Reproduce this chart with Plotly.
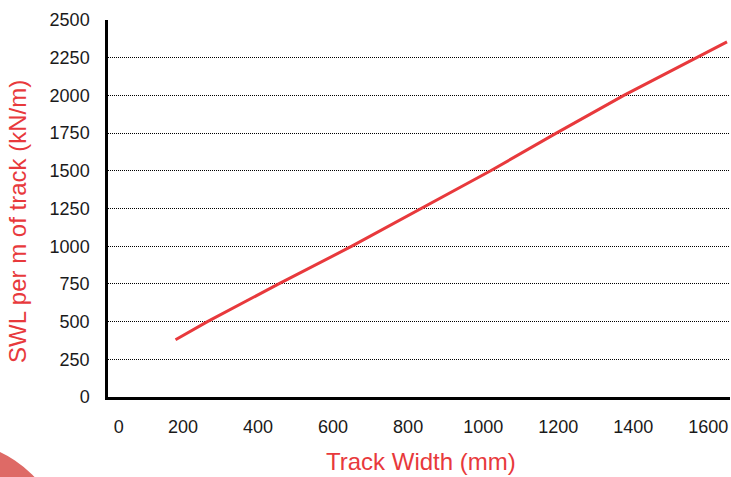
import plotly.graph_objects as go

track_width = [180, 265, 455, 650, 1020, 1195, 1375, 1570, 1650]
swl = [380, 500, 750, 1000, 1500, 1750, 2000, 2250, 2355]

x_tick_vals = [0, 200, 400, 600, 800, 1000, 1200, 1400, 1600]
x_tick_text = ["\u2003\u20090", "200", "400", "600", "800", "1000", "1200", "1400", "1600"]
y_tick_vals = [0, 250, 500, 750, 1000, 1250, 1500, 1750, 2000, 2250, 2500]

RED = "#e8393c"
FONT = "Liberation Sans, Arial, Helvetica, sans-serif"

fig = go.Figure()
fig.add_trace(go.Scatter(x=track_width, y=swl, mode="lines",
                         line=dict(color=RED, width=3), showlegend=False,
                         hoverinfo="skip"))

fig.update_layout(
    width=731, height=477,
    margin=dict(l=108, r=1, t=20, b=80),
    paper_bgcolor="white", plot_bgcolor="white",
    font=dict(family=FONT, size=18, color="#1a1a1a"),
    xaxis=dict(range=[0, 1658], tickvals=x_tick_vals, ticktext=x_tick_text,
               showgrid=False, zeroline=False, showline=True,
               linecolor="black", linewidth=2.5, ticks="",
               ticklabelstandoff=12, tickfont=dict(size=18)),
    yaxis=dict(range=[0, 2500], tickvals=y_tick_vals,
               showgrid=True, gridcolor="#000", griddash="1px,1px", gridwidth=1,
               zeroline=False, showline=True, linecolor="black", linewidth=2.5,
               ticks="", ticklabelstandoff=12, tickfont=dict(size=18)),
    annotations=[
        dict(text="SWL per m of track (kN/m)", xref="paper", yref="paper",
             x=-0.1447, y=0.467, textangle=-90, showarrow=False,
             xanchor="center", yanchor="middle",
             font=dict(family=FONT, size=24, color=RED)),
        dict(text="Track Width (mm)", xref="paper", yref="paper",
             x=0.503, y=-0.170, showarrow=False,
             xanchor="center", yanchor="middle",
             font=dict(family=FONT, size=24, color=RED)),
    ],
    shapes=[
        dict(type="circle", xref="paper", yref="paper",
             x0=-0.437, x1=-0.0675, y0=-0.727, y1=-0.1167,
             fillcolor="#de6a66", line=dict(width=0), layer="below"),
    ],
)

fig.write_html("out.html", config={"displayModeBar": False},
               post_script="document.body.style.margin='0';document.body.style.overflow='hidden';")
